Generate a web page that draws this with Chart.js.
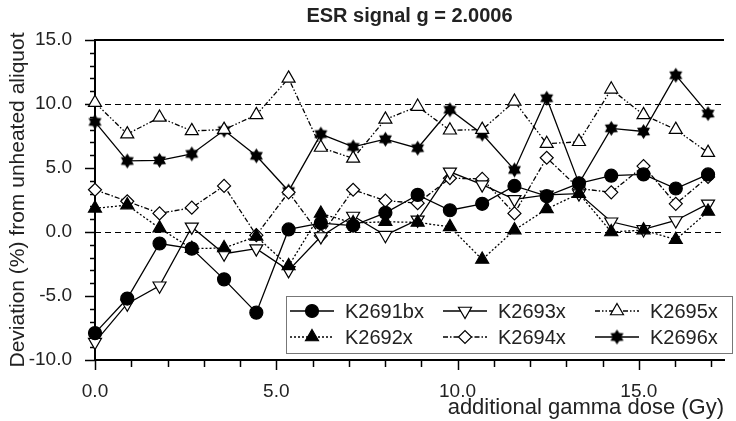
<!DOCTYPE html>
<html lang="en">
<head>
  <meta charset="UTF-8">
  <script src="https://cdn.jsdelivr.net/npm/chart.js"></script>
  <title>ESR signal g = 2.0006</title>
  <style>
    body { margin: 0; background: #fff; }
    .grafico { width: 736px; height: 421px; }
  </style>
</head>
<body>
  <div class="grafico">
    <canvas id="graficoESR" width="736" height="421"></canvas>
  </div>

  <script>
    // doses (Gy) e desvios (%)
    const doses = [0.0, 0.89, 1.78, 2.67, 3.56, 4.45, 5.34, 6.23, 7.12, 8.01,
                   8.9, 9.79, 10.68, 11.57, 12.46, 13.35, 14.24, 15.13, 16.02, 16.91];
    const k2691bx = [-7.9, -5.2, -0.9, -1.3, -3.7, -6.3, 0.2, 0.7, 0.5, 1.5,
                     2.9, 1.7, 2.2, 3.6, 2.8, 3.8, 4.4, 4.5, 3.4, 4.5];
    const k2692x = [1.85, 2.1, 0.3, -1.3, -1.25, -0.35, -2.65, 1.45, 0.7, 0.8,
                    0.75, 0.4, -2.15, 0.15, 1.8, 3.0, 0.0, 0.15, -0.6, 1.6];
    const k2693x = [-8.6, -5.6, -4.2, 0.4, -1.7, -1.3, -3.0, -0.35, 1.25, -0.25,
                    0.95, 4.7, 3.7, 2.55, 2.9, 3.0, 0.8, 0.2, 0.9, 2.2];
    const k2694x = [3.3, 2.4, 1.45, 1.9, 3.6, -0.25, 3.1, -0.3, 3.3, 2.45,
                    2.25, 4.2, 4.15, 1.45, 5.8, 3.4, 3.1, 5.15, 2.2, 4.3];
    const k2695x = [10.1, 7.65, 8.95, 7.9, 8.0, 9.15, 12.0, 6.6, 5.75, 8.8,
                    9.8, 7.95, 8.0, 10.2, 6.9, 7.05, 11.15, 9.15, 8.0, 6.2];
    const k2696x = [8.6, 5.55, 5.6, 6.1, 7.95, 5.95, 3.2, 7.65, 6.65, 7.25,
                    6.55, 9.55, 7.65, 4.85, 10.45, 3.8, 8.1, 7.85, 12.25, 9.25];
    const xTicks = [0, 5, 10, 15];
    const yTicks = [-10, -5, 0, 5, 10, 15];

    Chart.defaults.font.family = "'Liberation Sans', Arial, sans-serif";

    function estrela(r) {
      const c = document.createElement('canvas');
      const s = Math.ceil(r * 2 + 2);
      c.width = s;
      c.height = s;
      const g = c.getContext('2d');
      g.translate(s / 2, s / 2);
      g.beginPath();
      for (let i = 0; i < 12; i++) {
        const a = i * Math.PI / 6 - Math.PI / 2;
        const rr = i % 2 === 0 ? r : r * 0.6;
        g.lineTo(Math.cos(a) * rr, Math.sin(a) * rr);
      }
      g.closePath();
      g.fillStyle = '#000';
      g.fill();
      return c;
    }

    function serie(label, valores, estilo, cheio, dash, raio, rot) {
      return {
        label: label,
        data: doses.map((d, i) => ({ x: d, y: valores[i] })),
        borderColor: '#000',
        borderWidth: 1.3,
        borderDash: dash,
        pointStyle: estilo,
        pointRadius: raio,
        pointRotation: rot,
        pointBackgroundColor: cheio ? '#000' : '#fff',
        pointBorderColor: '#000',
        pointBorderWidth: 1.2,
        fill: false,
        tension: 0,
        clip: false
      };
    }

    const datasets = [
      serie('K2691bx', k2691bx, 'circle', true, [], 6.5, 0),
      serie('K2692x', k2692x, 'triangle', true, [2, 2], 7.5, 0),
      serie('K2693x', k2693x, 'triangle', false, [], 7.5, 180),
      serie('K2694x', k2694x, 'rectRot', false, [5, 2, 1.5, 2], 6.5, 0),
      serie('K2695x', k2695x, 'triangle', false, [5, 2, 1.5, 2, 1.5, 2], 7.5, 0),
      serie('K2696x', k2696x, estrela(7.5), true, [], 7.5, 0)
    ];

    // linhas tracejadas, borda superior e marcas dos eixos
    const eixos = {
      id: 'eixos',
      beforeDatasetsDraw(chart) {
        const { ctx, chartArea: a, scales: { x, y } } = chart;
        ctx.save();
        ctx.strokeStyle = '#000';
        ctx.lineWidth = 1;
        ctx.setLineDash([6, 4]);
        [0, 10].forEach(v => {
          const py = Math.round(y.getPixelForValue(v)) + 0.5;
          ctx.beginPath();
          ctx.moveTo(a.left, py);
          ctx.lineTo(a.right, py);
          ctx.stroke();
        });
        ctx.setLineDash([]);
        ctx.lineWidth = 2;
        ctx.beginPath();
        ctx.moveTo(a.left, a.top);
        ctx.lineTo(a.right, a.top);
        ctx.stroke();

        ctx.lineWidth = 1.5;
        for (let v = -10; v <= 15; v++) {
          const py = Math.round(y.getPixelForValue(v)) + 0.5;
          const len = v % 5 === 0 ? 10 : 5;
          ctx.beginPath();
          ctx.moveTo(a.left - len, py);
          ctx.lineTo(a.left, py);
          ctx.stroke();
        }
        for (let v = 0; v <= 17; v++) {
          const px = Math.round(x.getPixelForValue(v)) + 0.5;
          const len = v % 5 === 0 ? 10 : 7;
          ctx.beginPath();
          ctx.moveTo(px, a.bottom);
          ctx.lineTo(px, a.bottom + len);
          ctx.stroke();
        }
        ctx.restore();
      }
    };

    // legenda em caixa, 3 colunas x 2 linhas
    const legenda = {
      id: 'legenda',
      afterDatasetsDraw(chart) {
        const ctx = chart.ctx;
        const posicoes = [[0, 0], [0, 1], [1, 0], [1, 1], [2, 0], [2, 1]];
        const colX = [290, 443, 595];
        const linY = [311, 337];
        ctx.save();
        ctx.fillStyle = '#fff';
        ctx.fillRect(286, 296, 446, 57);
        ctx.strokeStyle = '#777';
        ctx.lineWidth = 1;
        ctx.strokeRect(286.5, 296.5, 446, 57);
        chart.data.datasets.forEach((ds, i) => {
          const [c, l] = posicoes[i];
          const x0 = colX[c];
          const yy = linY[l];
          ctx.strokeStyle = '#000';
          ctx.lineWidth = ds.borderWidth;
          ctx.setLineDash(ds.borderDash);
          ctx.beginPath();
          ctx.moveTo(x0, yy);
          ctx.lineTo(x0 + 44, yy);
          ctx.stroke();
          ctx.setLineDash([]);
          ctx.fillStyle = ds.pointBackgroundColor;
          ctx.lineWidth = ds.pointBorderWidth;
          Chart.helpers.drawPoint(ctx, {
            pointStyle: ds.pointStyle,
            rotation: ds.pointRotation,
            radius: ds.pointRadius,
            borderWidth: ds.pointBorderWidth
          }, x0 + 22, yy);
          ctx.fillStyle = '#222';
          ctx.font = "20px 'Liberation Sans', Arial, sans-serif";
          ctx.textBaseline = 'middle';
          ctx.textAlign = 'left';
          ctx.fillText(ds.label, x0 + 55, yy + 1);
        });
        ctx.restore();
      }
    };

    const ctx = document.getElementById('graficoESR').getContext('2d');
    const myChart = new Chart(ctx, {
      type: 'line',
      data: { datasets: datasets },
      options: {
        responsive: false,
        animation: false,
        layout: { padding: { left: 0, right: 5, top: 0, bottom: 0 } },
        plugins: {
          legend: { display: false },
          tooltip: { enabled: false },
          title: {
            display: true,
            text: 'ESR signal g = 2.0006',
            fullSize: false,
            color: '#222',
            font: { size: 20, weight: 'bold' },
            padding: { top: 4, bottom: 12 }
          }
        },
        scales: {
          x: {
            type: 'linear',
            min: 0,
            max: 17.35,
            grid: { display: false },
            border: { display: true, color: '#000', width: 2 },
            ticks: {
              stepSize: 1,
              autoSkip: false,
              maxRotation: 0,
              padding: 12,
              color: '#222',
              font: { size: 19 },
              callback: v => xTicks.includes(v) ? v.toFixed(1) : ''
            },
            title: {
              display: true,
              text: 'additional gamma dose (Gy)',
              align: 'end',
              color: '#222',
              font: { size: 22 },
              padding: { top: 0, bottom: 0 }
            },
            afterFit: s => { s.height = 61; }
          },
          y: {
            min: -10,
            max: 15,
            grid: { display: false },
            border: { display: true, color: '#000', width: 2 },
            ticks: {
              stepSize: 1,
              autoSkip: false,
              padding: 15,
              color: '#222',
              font: { size: 19 },
              callback: v => yTicks.includes(v) ? v.toFixed(1) : ''
            },
            title: {
              display: true,
              text: 'Deviation (%) from unheated aliquot',
              color: '#222',
              font: { size: 21 },
              padding: { top: 6, bottom: 4 }
            },
            afterFit: s => { s.width = 95; }
          }
        }
      },
      plugins: [eixos, legenda]
    });
  </script>
</body>
</html>
